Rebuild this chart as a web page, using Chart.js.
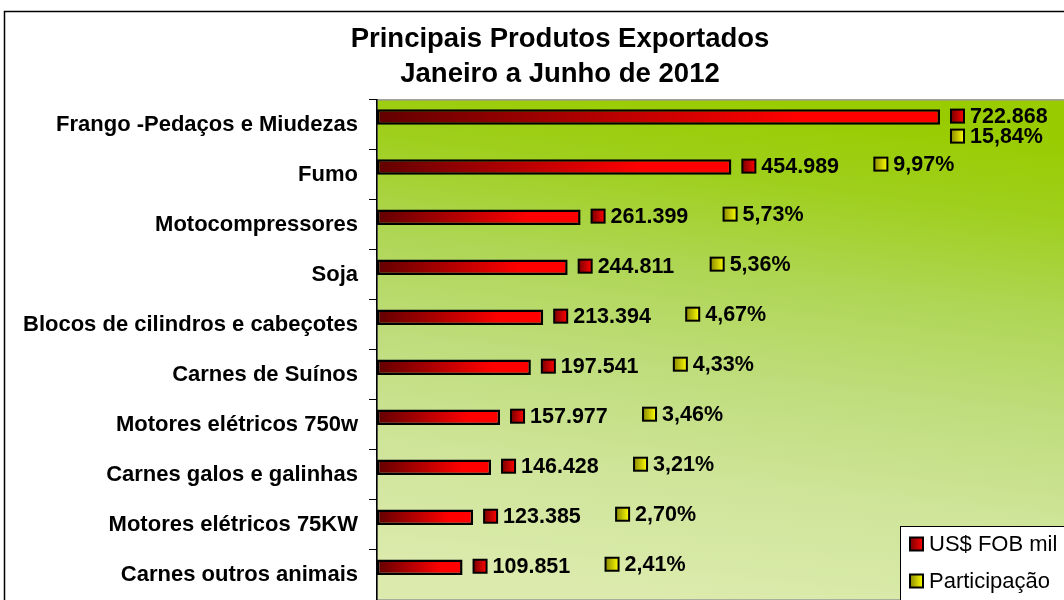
<!DOCTYPE html>
<html><head><meta charset="utf-8">
<script src="https://cdn.jsdelivr.net/npm/chart.js@4/dist/chart.umd.min.js"></script>
<style>
html,body{margin:0;padding:0;background:#fff;overflow:hidden;width:1064px;height:600px;}
#wrap{position:absolute;left:0;top:0;width:1120px;height:640px;}
</style></head><body>
<div id="wrap"><canvas id="c" width="1120" height="640"></canvas></div>
<script>
const categories = ['Frango -Pedaços e Miudezas','Fumo','Motocompressores','Soja','Blocos de cilindros e cabeçotes','Carnes de Suínos','Motores elétricos 750w','Carnes galos e galinhas','Motores elétricos 75KW','Carnes outros animais'];
const valuesFOB = [722868,454989,261399,244811,213394,197541,157977,146428,123385,109851];
const participacao = [15.84,9.97,5.73,5.36,4.67,4.33,3.46,3.21,2.70,2.41];
const seriesNames = ['US$ FOB mil','Participação'];
const titleLines = ['Principais Produtos Exportados','Janeiro a Junho de 2012'];
const xAxisMax = 954000;

const FONT = '"Liberation Sans", Arial, Helvetica, sans-serif';

function fmtThousands(v){ return String(v).replace(/\B(?=(\d{3})+(?!\d))/g,'.'); }
function fmtPct(v){ return v.toFixed(2).replace('.',',') + '%'; }

function drawKey(ctx, x, y, c0, c1){
  const s = 13;
  const g = ctx.createLinearGradient(x, 0, x + s, 0);
  g.addColorStop(0, c0); g.addColorStop(1, c1);
  ctx.fillStyle = g;
  ctx.fillRect(x, y - s/2, s, s);
  ctx.lineWidth = 2; ctx.strokeStyle = '#000';
  ctx.strokeRect(x, y - s/2, s, s);
}

const decorPlugin = {
  id: 'decor',
  beforeDraw(chart){
    const ctx = chart.ctx, a = chart.chartArea;
    ctx.save();
    ctx.lineWidth = 1.5; ctx.strokeStyle = '#000';
    ctx.strokeRect(4.5, 11.5, 2000, 2000);
    const g = ctx.createLinearGradient(a.left + 360, a.top, a.left + 300, a.bottom);
    g.addColorStop(0, '#99cc00');
    g.addColorStop(0.15, '#9fcf1c');
    g.addColorStop(0.35, '#afd655');
    g.addColorStop(0.55, '#bfdd7c');
    g.addColorStop(0.78, '#d0e59b');
    g.addColorStop(1, '#dcebad');
    ctx.fillStyle = g;
    ctx.fillRect(a.left, a.top, a.right - a.left, a.bottom - a.top);
    ctx.lineWidth = 1.5; ctx.strokeStyle = '#999999';
    ctx.strokeRect(a.left, a.top, a.right - a.left, a.bottom - a.top);
    ctx.restore();
  },
  afterDatasetsDraw(chart){
    const ctx = chart.ctx;
    const meta = chart.getDatasetMeta(0);
    ctx.save();
    ctx.font = 'bold 21.5px ' + FONT;
    ctx.textBaseline = 'middle';
    ctx.textAlign = 'left';
    meta.data.forEach((bar, i) => {
      const mx = bar.x + 11, cy = bar.y - 1;
      drawKey(ctx, mx, cy, '#7a0000', '#ff0000');
      ctx.fillStyle = '#000';
      ctx.fillText(fmtThousands(chart.data.datasets[0].data[i]), mx + 19, cy + 1);
      const t2 = fmtPct(chart.data.datasets[1].data[i]);
      let yx = mx + 132, yy = cy - 2;
      if (yx + 19 + ctx.measureText(t2).width > 1064) { yx = mx; yy = cy + 20; }
      drawKey(ctx, yx, yy, '#8a8a00', '#ffff00');
      ctx.fillStyle = '#000';
      ctx.fillText(t2, yx + 19, yy + 1);
    });
    ctx.restore();
  },
  afterDraw(chart){
    const ctx = chart.ctx;
    ctx.save();
    ctx.fillStyle = '#fff'; ctx.strokeStyle = '#000'; ctx.lineWidth = 1;
    ctx.fillRect(900.5, 526.5, 400, 200);
    ctx.strokeRect(900.5, 526.5, 400, 200);
    ctx.font = '22px ' + FONT;
    ctx.textBaseline = 'middle'; ctx.textAlign = 'left';
    const keys = [['#7a0000','#ff0000'],['#8a8a00','#ffff00']];
    chart.data.datasets.forEach((ds, i) => {
      const y = 544 + i * 37;
      drawKey(ctx, 910, y, keys[i][0], keys[i][1]);
      ctx.fillStyle = '#000';
      ctx.fillText(ds.label, 929, y + 1);
    });
    ctx.restore();
  }
};

new Chart(document.getElementById('c'), {
  type: 'bar',
  data: {
    labels: categories,
    datasets: [
      {
        label: seriesNames[0],
        data: valuesFOB,
        borderColor: '#000',
        borderWidth: 2.5,
        borderSkipped: false,
        backgroundColor: (c) => {
          const chart = c.chart, a = chart.chartArea;
          if (!a || c.type !== 'data' || !chart.scales.x) return '#ff0000';
          const end = chart.scales.x.getPixelForValue(c.raw);
          const g = chart.ctx.createLinearGradient(a.left, 0, Math.max(end, a.left + 1), 0);
          g.addColorStop(0, '#620000');
          g.addColorStop(0.75, '#ff0000');
          g.addColorStop(1, '#ff0000');
          return g;
        }
      },
      {
        label: seriesNames[1],
        data: participacao,
        backgroundColor: '#ffff00',
        borderWidth: 0
      }
    ]
  },
  options: {
    responsive: false,
    animation: false,
    devicePixelRatio: 1,
    indexAxis: 'y',
    layout: { padding: { left: 0, right: 0, top: 0, bottom: 40 } },
    datasets: { bar: { categoryPercentage: 0.62, barPercentage: 1.0 } },
    plugins: {
      legend: { display: false },
      tooltip: { enabled: false },
      title: {
        display: true,
        text: titleLines,
        color: '#000',
        font: { family: FONT, size: 27.5, weight: 'bold', lineHeight: 1.27 },
        padding: { top: 22, bottom: 8 }
      }
    },
    scales: {
      x: { display: false, min: 0, max: xAxisMax },
      y: {
        grid: { display: true, drawOnChartArea: false, drawTicks: true, tickLength: 8, color: '#000', lineWidth: 1, offset: true },
        border: { display: true, color: '#000', width: 1.5 },
        ticks: { color: '#000', padding: 11, autoSkip: false, font: { family: FONT, size: 22, weight: 'bold' } },
        afterFit: (s) => { s.width = 377; }
      }
    }
  },
  plugins: [decorPlugin]
});
</script>
</body></html>
